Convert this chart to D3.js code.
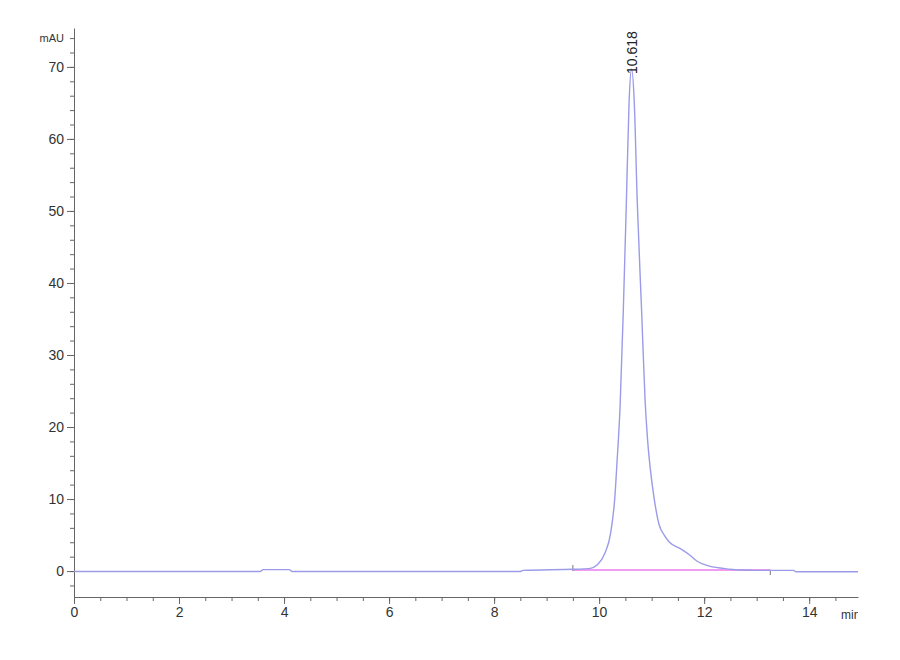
<!DOCTYPE html>
<html>
<head>
<meta charset="utf-8">
<script src="https://cdn.jsdelivr.net/npm/d3@7"></script>
<style>
  body { margin: 0; background: #fff; }
  svg text { font-family: "Liberation Sans Narrow", "Liberation Sans", Arial, sans-serif; }
</style>
</head>
<body>
<div id="chart"></div>
<script>
// retention time (min) and absorbance (mAU)
var times  = [0, 3.55, 3.6, 4.1, 4.15, 8.5, 8.55, 9.5, 9.7, 9.83, 9.96, 10.11, 10.22, 10.30, 10.34,
              10.40, 10.46, 10.52, 10.57, 10.618, 10.67, 10.725, 10.81, 10.875, 10.92, 10.97,
              11.05, 11.14, 11.24, 11.34, 11.54, 11.73, 11.86, 12.05, 12.37, 12.69, 13.0, 13.7,
              13.75, 14.93];
var mAU    = [-0.05, -0.05, 0.2, 0.2, -0.05, -0.05, 0.1, 0.25, 0.3, 0.37, 0.83, 2.46, 5.3, 10.3, 15,
              23, 36, 51.5, 65, 69.7, 65, 51.5, 36, 23.75, 18.5, 14.5,
              10, 6.5, 5.0, 4.0, 3.15, 2.2, 1.4, 0.8, 0.37, 0.14, 0.1, 0.1,
              -0.1, -0.1];
var baselineTimes = [9.5, 13.26];
var baselineValues = [0.15, 0.15];
var peakTime = 10.618, peakValue = 69.7, peakLabel = "10.618";
var xMajorTicks = [0, 2, 4, 6, 8, 10, 12, 14];
var yMajorTicks = [0, 10, 20, 30, 40, 50, 60, 70];
var xUnit = "min", yUnit = "mAU";

var width = 900, height = 660;
var x = d3.scaleLinear().domain([0, 14.93]).range([74, 858]);
var y = d3.scaleLinear().domain([-3.6, 75.4]).range([597, 28]);

var svg = d3.select('#chart').append('svg')
  .attr('width', width).attr('height', height);

svg.append('defs').append('clipPath').attr('id', 'clipR')
  .append('rect').attr('x', 0).attr('y', 0).attr('width', 858).attr('height', height);

var axisColor = '#666', textColor = '#333';

// minor ticks
var xMinor = d3.range(0, 15, 0.5);
var yMinor = d3.range(-2, 75, 2);

svg.append('g').attr('transform', 'translate(0,597)')
  .call(d3.axisBottom(x).tickValues(xMinor).tickSize(4).tickSizeOuter(0).tickFormat(''))
  .call(function (g) { g.select('.domain').remove(); g.selectAll('line').attr('stroke', axisColor); });

svg.append('g').attr('transform', 'translate(74,0)')
  .call(d3.axisLeft(y).tickValues(yMinor).tickSize(4).tickSizeOuter(0).tickFormat(''))
  .call(function (g) { g.select('.domain').remove(); g.selectAll('line').attr('stroke', axisColor); });

// major axes
var xAxis = svg.append('g').attr('transform', 'translate(0,597)')
  .call(d3.axisBottom(x).tickValues(xMajorTicks).tickSize(7).tickSizeOuter(0).tickPadding(3));
var yAxis = svg.append('g').attr('transform', 'translate(74,0)')
  .call(d3.axisLeft(y).tickValues(yMajorTicks).tickSize(7).tickSizeOuter(0).tickPadding(3));

[xAxis, yAxis].forEach(function (g) {
  g.select('.domain').attr('stroke', axisColor);
  g.selectAll('line').attr('stroke', axisColor);
  g.selectAll('text').attr('fill', textColor).style('font-size', '14px');
});

// units
svg.append('text')
  .attr('x', 64).attr('y', y(74) + 4)
  .attr('text-anchor', 'end')
  .attr('fill', textColor)
  .style('font-size', '11px')
  .text(yUnit);

svg.append('text')
  .attr('x', 841).attr('y', 619)
  .attr('clip-path', 'url(#clipR)')
  .attr('fill', textColor)
  .style('font-size', '12px')
  .text(xUnit);

// integration baseline
var line = d3.line()
  .x(function (d) { return x(d[0]); })
  .y(function (d) { return y(d[1]); });

svg.append('path')
  .datum(d3.zip(baselineTimes, baselineValues))
  .attr('fill', 'none')
  .attr('stroke', '#f19cf0')
  .attr('stroke-width', 2)
  .attr('d', line);

svg.selectAll('.bl-mark')
  .data(d3.zip(baselineTimes, baselineValues))
  .enter().append('line')
  .attr('class', 'bl-mark')
  .attr('x1', function (d) { return x(d[0]); })
  .attr('x2', function (d) { return x(d[0]); })
  .attr('y1', function (d, i) { return y(d[1]) - (i === 0 ? 5 : 0); })
  .attr('y2', function (d, i) { return y(d[1]) + (i === 0 ? 1 : 5); })
  .attr('stroke', '#777')
  .attr('stroke-width', 1);

// chromatogram trace
svg.append('path')
  .datum(d3.zip(times, mAU))
  .attr('fill', 'none')
  .attr('stroke', '#9b9be8')
  .attr('stroke-width', 1.4)
  .attr('d', line.curve(d3.curveMonotoneX));

// peak label
svg.append('text')
  .attr('transform', 'translate(' + (x(peakTime) + 5) + ',' + (y(peakValue) + 5) + ') rotate(-90)')
  .attr('text-anchor', 'start')
  .attr('fill', '#222')
  .style('font-size', '14px')
  .text(peakLabel);
</script>
</body>
</html>
